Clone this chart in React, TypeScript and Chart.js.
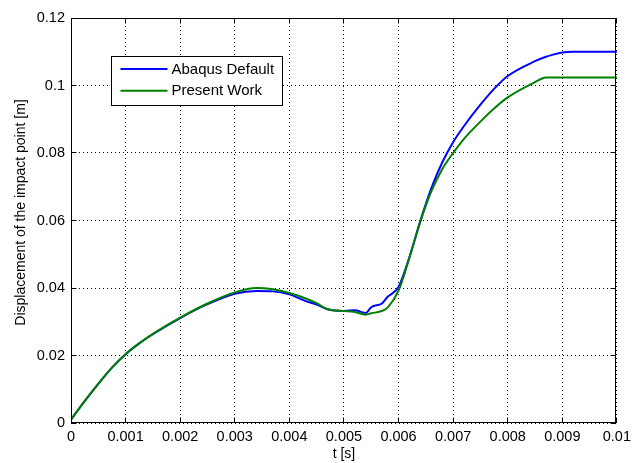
import React, { useEffect, useRef } from "react";
import { Chart, registerables } from "chart.js";

Chart.register(...registerables);

const tValues = [
  0, 0.00025, 0.0005, 0.00075, 0.001, 0.00125, 0.0015, 0.002, 0.0025, 0.003,
  0.0034, 0.0037, 0.004, 0.0043, 0.0045, 0.0047, 0.005, 0.0052, 0.0054, 0.0055,
  0.0057, 0.0058, 0.006, 0.0062, 0.0064, 0.0066, 0.0068, 0.007, 0.0072, 0.0075,
  0.00775, 0.008, 0.0085, 0.0087, 0.0088, 0.009, 0.0092, 0.0095, 0.01,
];

const abaqusDefault = [
  0.001, 0.0065, 0.0116, 0.0164, 0.0204, 0.0236, 0.0263, 0.0311, 0.0352, 0.0383,
  0.0391, 0.039, 0.0381, 0.0361, 0.0351, 0.0337, 0.0332, 0.0334, 0.0326, 0.0343,
  0.0355, 0.0374, 0.0403, 0.0492, 0.0599, 0.0695, 0.0772, 0.0832, 0.088, 0.0943,
  0.099, 0.1028, 0.1072, 0.1085, 0.109, 0.1098, 0.11, 0.11, 0.11,
];

const presentWork = [
  0.001, 0.0065, 0.0116, 0.0164, 0.0204, 0.0236, 0.0264, 0.0312, 0.0354, 0.0387,
  0.04, 0.0396, 0.0385, 0.0369, 0.0355, 0.0337, 0.0332, 0.0329, 0.0321, 0.0325,
  0.0332, 0.0342, 0.0392, 0.049, 0.0597, 0.0686, 0.0752, 0.08, 0.0842, 0.0893,
  0.0932, 0.0965, 0.101, 0.1024, 0.1024, 0.1024, 0.1024, 0.1024, 0.1024,
];

const xTickValues = [0, 0.001, 0.002, 0.003, 0.004, 0.005, 0.006, 0.007, 0.008, 0.009, 0.01];
const xTickLabels = ["0", "0.001", "0.002", "0.003", "0.004", "0.005", "0.006", "0.007", "0.008", "0.009", "0.01"];
const yTickValues = [0, 0.02, 0.04, 0.06, 0.08, 0.1, 0.12];
const yTickLabels = ["0", "0.02", "0.04", "0.06", "0.08", "0.1", "0.12"];

const seriesNames = ["Abaqus Default", "Present Work"];
const seriesColors = ["#0000ff", "#008000"];
const xTitle = "t [s]";
const yTitle = "Displacement of the impact point [m]";

const FONT = "'Liberation Sans', Arial, Helvetica, sans-serif";

const align = (p: number) => Math.round(p - 0.5) + 0.5;

const framePlugin = {
  id: "matlabFrame",
  afterDraw(chart: any) {
    const { ctx, chartArea } = chart;
    const { left, right, top, bottom } = chartArea;
    const xs = chart.scales.x;
    const ys = chart.scales.y;
    ctx.save();
    ctx.strokeStyle = "#000";
    ctx.lineWidth = 1;
    ctx.setLineDash([]);
    const L = align(left), R = align(right - 1), T = align(top), B = align(bottom - 1);
    ctx.strokeRect(L, T, R - L, B - T);
    const tl = 5;
    ctx.beginPath();
    xTickValues.forEach((v) => {
      const px = align(xs.getPixelForValue(v));
      ctx.moveTo(px, B);
      ctx.lineTo(px, B - tl);
      ctx.moveTo(px, T);
      ctx.lineTo(px, T + tl);
    });
    yTickValues.forEach((v) => {
      const py = align(ys.getPixelForValue(v));
      ctx.moveTo(L, py);
      ctx.lineTo(L + tl, py);
      ctx.moveTo(R, py);
      ctx.lineTo(R - tl, py);
    });
    ctx.stroke();

    // y title
    ctx.save();
    ctx.translate(21, (top + bottom) / 2 - 8);
    ctx.rotate(-Math.PI / 2);
    ctx.fillStyle = "#000";
    ctx.font = `14px ${FONT}`;
    ctx.textAlign = "center";
    ctx.textBaseline = "middle";
    ctx.fillText(yTitle, 0, 0);
    ctx.restore();

    // legend
    const bx = align(left + 40);
    const by = align(top + 38);
    const bw = 171;
    const bh = 49;
    ctx.fillStyle = "#fff";
    ctx.fillRect(bx, by, bw, bh);
    ctx.strokeStyle = "#000";
    ctx.strokeRect(bx, by, bw, bh);
    ctx.font = `15px ${FONT}`;
    ctx.textAlign = "left";
    ctx.textBaseline = "middle";
    seriesNames.forEach((name, i) => {
      const ry = by + 12.5 + i * 21.7;
      ctx.strokeStyle = seriesColors[i];
      ctx.lineWidth = 2;
      ctx.beginPath();
      ctx.moveTo(bx + 9, ry);
      ctx.lineTo(bx + 56, ry);
      ctx.stroke();
      ctx.fillStyle = "#000";
      ctx.fillText(name, bx + 60, ry + 0.5);
    });
    ctx.restore();
  },
};

export default function App() {
  const canvasRef = useRef<HTMLCanvasElement | null>(null);

  useEffect(() => {
    document.body.style.margin = "0";
    const canvas = canvasRef.current;
    if (!canvas) return;
    const chart = new Chart(canvas, {
      type: "line",
      data: {
        datasets: [
          {
            label: seriesNames[0],
            data: tValues.map((t, i) => ({ x: t, y: abaqusDefault[i] })),
            borderColor: seriesColors[0],
            backgroundColor: seriesColors[0],
            borderWidth: 2,
            pointRadius: 0,
            cubicInterpolationMode: "monotone",
            order: 2,
          },
          {
            label: seriesNames[1],
            data: tValues.map((t, i) => ({ x: t, y: presentWork[i] })),
            borderColor: seriesColors[1],
            backgroundColor: seriesColors[1],
            borderWidth: 2,
            pointRadius: 0,
            cubicInterpolationMode: "monotone",
            order: 1,
          },
        ],
      },
      options: {
        animation: false,
        responsive: false,
        maintainAspectRatio: false,
        layout: { padding: { left: 0, right: 12, top: 18, bottom: 0 } },
        plugins: { legend: { display: false }, tooltip: { enabled: false } },
        scales: {
          x: {
            type: "linear",
            min: 0,
            max: 0.01,
            afterBuildTicks: (s: any) => {
              s.ticks = xTickValues.map((v) => ({ value: v }));
            },
            afterFit: (s: any) => {
              s.height = 40;
            },
            ticks: {
              autoSkip: false,
              maxRotation: 0,
              padding: 5,
              color: "#000",
              font: { size: 14.5, family: FONT },
              callback: (_v: any, i: number) => xTickLabels[i],
            },
            grid: { color: "#000", lineWidth: 1, drawTicks: false },
            border: { display: false, dash: [1, 3] },
            title: {
              display: true,
              text: xTitle,
              color: "#000",
              font: { size: 14, family: FONT },
              padding: { top: 0, bottom: 0 },
            },
          },
          y: {
            type: "linear",
            min: 0,
            max: 0.12,
            afterBuildTicks: (s: any) => {
              s.ticks = yTickValues.map((v) => ({ value: v }));
            },
            afterFit: (s: any) => {
              s.width = 71;
            },
            ticks: {
              autoSkip: false,
              padding: 6,
              color: "#000",
              font: { size: 14.5, family: FONT },
              callback: (_v: any, i: number) => yTickLabels[i],
            },
            grid: { color: "#000", lineWidth: 1, drawTicks: false },
            border: { display: false, dash: [1, 3] },
          },
        },
      },
      plugins: [framePlugin],
    });
    return () => chart.destroy();
  }, []);

  return (
    <div style={{ position: "relative", width: 636, height: 463 }}>
      <canvas ref={canvasRef} width={636} height={463} style={{ display: "block" }} />
    </div>
  );
}
